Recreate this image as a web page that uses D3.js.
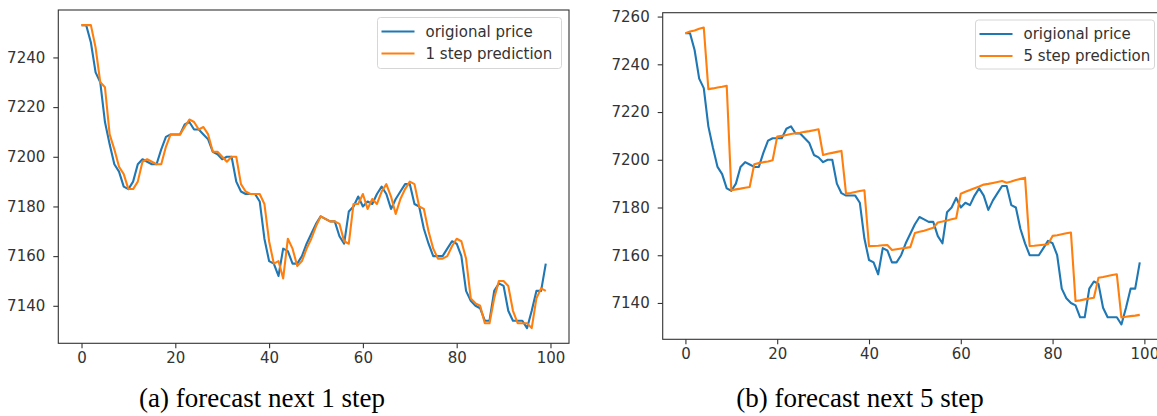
<!DOCTYPE html>
<html>
<head>
<meta charset="utf-8">
<script src="https://cdn.jsdelivr.net/npm/d3@7"></script>
<style>
  html, body { margin: 0; padding: 0; background: #fff; }
  svg { display: block; }
  .tick text { font-family: "DejaVu Sans", sans-serif; font-size: 15px; fill: #333; }
  .legend text { font-family: "DejaVu Sans", sans-serif; font-size: 15px; fill: #333; }
  .caption { font-family: "Liberation Serif", "Times New Roman", serif; font-size: 27px; fill: #000; }
</style>
</head>
<body>
<svg id="chart" width="1157" height="416"></svg>
<script>
// Original price, 100 time steps
const originalPrice = [
  7253, 7253, 7246, 7234, 7230, 7214, 7205, 7197, 7194, 7188,
  7187, 7190, 7197, 7199, 7198, 7197, 7197, 7203, 7208, 7209,
  7209, 7209, 7213, 7214, 7211, 7211, 7209, 7207, 7202, 7201,
  7199, 7200, 7200, 7190, 7186, 7185, 7185, 7185, 7182, 7167,
  7158, 7157, 7152, 7163, 7162, 7157, 7157, 7160, 7165, 7169,
  7173, 7176, 7175, 7174, 7174, 7168, 7165, 7178, 7180, 7184,
  7180, 7182, 7181, 7185, 7188, 7185, 7179, 7183, 7186, 7189,
  7189, 7181, 7180, 7171, 7165, 7160, 7160, 7160, 7163, 7166,
  7165, 7160, 7146, 7142, 7140, 7139, 7134, 7134, 7146, 7149,
  7148, 7138, 7134, 7134, 7134, 7131, 7138, 7146, 7146, 7157
];

// One-step-ahead prediction
const pred1Step = [
  7253, 7253, 7253, 7244, 7230, 7228, 7209, 7203, 7196, 7193,
  7187, 7187, 7190, 7198, 7199, 7198, 7197, 7197, 7204, 7209,
  7209, 7209, 7212, 7215, 7214, 7211, 7212, 7209, 7202, 7202,
  7200, 7198, 7200, 7200, 7189, 7186, 7185, 7185, 7185, 7181,
  7166, 7157, 7158, 7151, 7167, 7163, 7156, 7158, 7163, 7167,
  7172, 7176, 7175, 7174, 7174, 7173, 7166, 7165, 7181, 7181,
  7185, 7179, 7183, 7181, 7186, 7189, 7184, 7177, 7183, 7187,
  7190, 7189, 7180, 7179, 7170, 7163, 7159, 7159, 7160, 7164,
  7167, 7166, 7159, 7143, 7141, 7140, 7133, 7133, 7143, 7150,
  7150, 7148, 7138, 7133, 7133, 7133, 7131, 7143, 7147, 7146
];

// Five-step-ahead prediction
const pred5Step = [
  7253.0, 7253.7, 7254.2, 7254.9, 7255.4, 7229.6, 7229.9, 7230.3, 7230.6, 7231.0,
  7187.2, 7187.6, 7187.9, 7188.3, 7188.6, 7198.1, 7198.6, 7199.0, 7199.3, 7199.8,
  7209.7, 7210.0, 7210.4, 7210.8, 7211.1, 7211.3, 7211.7, 7212.0, 7212.4, 7212.8,
  7202.0, 7202.5, 7202.9, 7203.3, 7203.7, 7185.8, 7186.1, 7186.5, 7186.9, 7187.2,
  7163.8, 7163.9, 7164.0, 7164.2, 7164.3, 7162.2, 7162.5, 7162.8, 7163.1, 7163.4,
  7169.3, 7169.8, 7170.3, 7170.9, 7171.5, 7173.7, 7174.1, 7174.6, 7175.1, 7175.5,
  7185.8, 7186.6, 7187.3, 7188.1, 7188.8, 7189.6, 7189.9, 7190.3, 7190.7, 7191.1,
  7190.4, 7190.9, 7191.5, 7192.0, 7192.5, 7163.9, 7164.0, 7164.2, 7164.4, 7164.6,
  7168.1, 7168.4, 7168.8, 7169.2, 7169.5, 7140.8, 7141.1, 7141.5, 7141.9, 7142.2,
  7150.6, 7150.9, 7151.3, 7151.7, 7152.0, 7133.9, 7134.2, 7134.5, 7134.7, 7135.0
];

const xTickValues = [0, 20, 40, 60, 80, 100];
const yTickValuesA = [7140, 7160, 7180, 7200, 7220, 7240];
const yTickValuesB = [7140, 7160, 7180, 7200, 7220, 7240, 7260];

const seriesNames = ["origional price", "1 step prediction", "5 step prediction"];
const captions = ["(a) forecast next 1 step", "(b) forecast next 5 step"];

const BLUE = "#1f77b4";
const ORANGE = "#ff7f0e";

const svg = d3.select("#chart");

function drawPanel(cfg) {
  const g = svg.append("g");
  const n = cfg.actual.length;

  // matplotlib-style 5% margins around the data
  const xMin = 0, xMax = n - 1;
  const xPad = (xMax - xMin) * 0.05;
  const x = d3.scaleLinear()
    .domain([xMin - xPad, xMax + xPad])
    .range([cfg.left, cfg.right]);

  const allY = cfg.actual.concat(cfg.pred);
  const yLo = d3.min(allY), yHi = d3.max(allY);
  const yPad = (yHi - yLo) * 0.05;
  const y = d3.scaleLinear()
    .domain([yLo - yPad, yHi + yPad])
    .range([cfg.bottom, cfg.top]);

  // series lines
  const line = d3.line()
    .x((d, i) => x(i))
    .y(d => y(d));

  g.append("path")
    .datum(cfg.actual)
    .attr("d", line)
    .attr("fill", "none")
    .attr("stroke", BLUE)
    .attr("stroke-width", 2.1)
    .attr("stroke-linejoin", "round");

  g.append("path")
    .datum(cfg.pred)
    .attr("d", line)
    .attr("fill", "none")
    .attr("stroke", ORANGE)
    .attr("stroke-width", 2.1)
    .attr("stroke-linejoin", "round");

  // frame
  g.append("rect")
    .attr("x", cfg.left)
    .attr("y", cfg.top)
    .attr("width", cfg.right - cfg.left)
    .attr("height", cfg.bottom - cfg.top)
    .attr("fill", "none")
    .attr("stroke", "#333")
    .attr("stroke-width", 1.1);

  // axes
  const xAxis = d3.axisBottom(x)
    .tickValues(xTickValues)
    .tickFormat(d3.format("d"))
    .tickSize(5)
    .tickPadding(4);
  const gx = g.append("g")
    .attr("transform", `translate(0,${cfg.bottom})`)
    .call(xAxis);
  gx.select(".domain").remove();
  gx.selectAll(".tick line").attr("stroke", "#333").attr("stroke-width", 1.1);

  const yAxis = d3.axisLeft(y)
    .tickValues(cfg.yTicks)
    .tickFormat(d3.format("d"))
    .tickSize(5)
    .tickPadding(8);
  const gy = g.append("g")
    .attr("transform", `translate(${cfg.left},0)`)
    .call(yAxis);
  gy.select(".domain").remove();
  gy.selectAll(".tick line").attr("stroke", "#333").attr("stroke-width", 1.1);

  // legend
  const lg = g.append("g").attr("class", "legend");
  lg.append("rect")
    .attr("x", cfg.legend.x)
    .attr("y", cfg.legend.y)
    .attr("width", cfg.legend.w)
    .attr("height", cfg.legend.h)
    .attr("rx", 3)
    .attr("fill", "#fff")
    .attr("fill-opacity", 0.8)
    .attr("stroke", "#d6d6d6")
    .attr("stroke-width", 1);

  const items = [
    { name: seriesNames[0], color: BLUE },
    { name: cfg.predName, color: ORANGE }
  ];
  items.forEach((it, k) => {
    const cy = cfg.legend.y + 14 + k * 22;
    lg.append("line")
      .attr("x1", cfg.legend.x + 4)
      .attr("x2", cfg.legend.x + 37)
      .attr("y1", cy)
      .attr("y2", cy)
      .attr("stroke", it.color)
      .attr("stroke-width", 2.1);
    lg.append("text")
      .attr("x", cfg.legend.x + 48)
      .attr("y", cy)
      .attr("dy", "0.35em")
      .text(it.name);
  });

  // caption
  svg.append("text")
    .attr("class", "caption")
    .attr("x", cfg.captionX)
    .attr("y", 407)
    .attr("text-anchor", "middle")
    .text(cfg.caption);
}

drawPanel({
  actual: originalPrice,
  pred: pred1Step,
  predName: seriesNames[1],
  yTicks: yTickValuesA,
  left: 58.3, right: 569, top: 10, bottom: 343.3,
  legend: { x: 377.5, y: 17.5, w: 184, h: 51 },
  caption: captions[0],
  captionX: 262
});

drawPanel({
  actual: originalPrice,
  pred: pred5Step,
  predName: seriesNames[2],
  yTicks: yTickValuesB,
  left: 662.7, right: 1162.5, top: 12.7, bottom: 339.3,
  legend: { x: 975.5, y: 20, w: 179, h: 49 },
  caption: captions[1],
  captionX: 860
});
</script>
</body>
</html>
